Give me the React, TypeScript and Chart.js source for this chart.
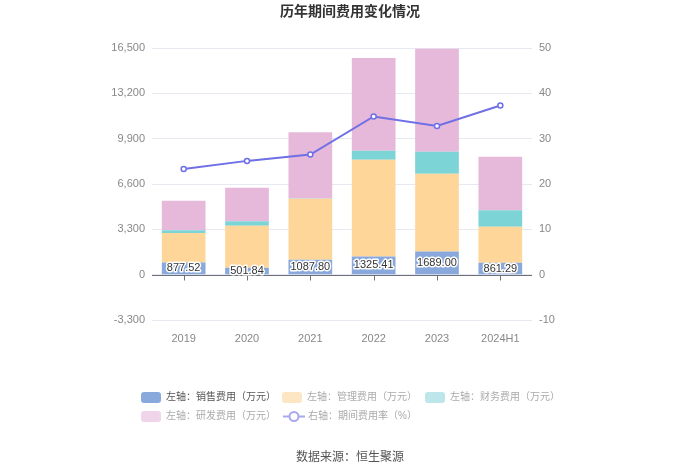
import React, { useEffect, useRef } from "react";
import { Chart, registerables } from "chart.js";

Chart.register(...registerables);

const categories = ["2019", "2020", "2021", "2022", "2023", "2024H1"];
const salesExpense = [877.52, 501.84, 1087.8, 1325.41, 1689.0, 861.29];
const mgmtExpense = [2155, 3064, 4443, 7044, 5662, 2632];
const financeExpense = [194, 316, 15, 655, 1601, 1189];
const rdExpense = [2159, 2450, 4828, 6744, 7496, 3906];
const expenseRatio = [23.3, 25.1, 26.5, 34.9, 32.8, 37.3];

const leftTicks = { min: -3300, max: 16500, step: 3300 };
const rightTicks = { min: -10, max: 50, step: 10 };

const TITLE = "历年期间费用变化情况";
const SOURCE = "数据来源：恒生聚源";
const legendItems = [
  { label: "左轴：销售费用（万元）", color: "#89A9DC", text: "#555", type: "box", row: 0, x: 141 },
  { label: "左轴：管理费用（万元）", color: "#FDE6C4", text: "#aaa", type: "box", row: 0, x: 282 },
  { label: "左轴：财务费用（万元）", color: "#BDE6EA", text: "#aaa", type: "box", row: 0, x: 425 },
  { label: "左轴：研发费用（万元）", color: "#F0D4EA", text: "#aaa", type: "box", row: 1, x: 141 },
  { label: "右轴：期间费用率（%）", color: "#A8A8F0", text: "#aaa", type: "line", row: 1, x: 283 },
];

const FONT = "'Liberation Sans', 'Noto Sans CJK SC', sans-serif";

const decorPlugin = {
  id: "decor",
  beforeDatasetsDraw(chart: any) {
    const ctx = chart.ctx;
    const y = chart.scales.y;
    const x = chart.scales.x;
    const area = chart.chartArea;
    const y0 = Math.round(y.getPixelForValue(0)) + 0.5;
    ctx.save();
    ctx.strokeStyle = "#6E7079";
    ctx.lineWidth = 1;
    ctx.beginPath();
    ctx.moveTo(area.left, y0);
    ctx.lineTo(area.right, y0);
    for (let i = 0; i < categories.length; i++) {
      const px = Math.round(x.getPixelForValue(i)) + 0.5;
      ctx.moveTo(px, y0);
      ctx.lineTo(px, y0 + 5);
    }
    ctx.stroke();
    ctx.restore();
  },
  afterDatasetsDraw(chart: any) {
    const ctx = chart.ctx;
    const meta = chart.getDatasetMeta(1);
    ctx.save();
    ctx.font = `11px ${FONT}`;
    ctx.textAlign = "center";
    ctx.textBaseline = "middle";
    ctx.lineJoin = "round";
    meta.data.forEach((bar: any, i: number) => {
      const cy = (bar.y + bar.base) / 2;
      const txt = salesExpense[i].toFixed(2);
      ctx.strokeStyle = "#fff";
      ctx.lineWidth = 3;
      ctx.strokeText(txt, bar.x, cy);
      ctx.fillStyle = "#333";
      ctx.fillText(txt, bar.x, cy);
    });
    ctx.restore();
  },
  afterDraw(chart: any) {
    const ctx = chart.ctx;
    ctx.save();
    ctx.textBaseline = "middle";
    ctx.textAlign = "center";
    ctx.fillStyle = "#333";
    ctx.font = `bold 14px ${FONT}`;
    ctx.fillText(TITLE, 350, 12);
    ctx.font = `12px ${FONT}`;
    ctx.fillStyle = "#555";
    ctx.fillText(SOURCE, 350, 458);
    ctx.textAlign = "left";
    ctx.font = `10px ${FONT}`;
    legendItems.forEach((it) => {
      const cy = it.row === 0 ? 397.5 : 416.5;
      if (it.type === "box") {
        ctx.fillStyle = it.color;
        const w = 20, h = 11, r = 3;
        const bx = it.x, by = cy - h / 2;
        ctx.beginPath();
        ctx.moveTo(bx + r, by);
        ctx.lineTo(bx + w - r, by);
        ctx.quadraticCurveTo(bx + w, by, bx + w, by + r);
        ctx.lineTo(bx + w, by + h - r);
        ctx.quadraticCurveTo(bx + w, by + h, bx + w - r, by + h);
        ctx.lineTo(bx + r, by + h);
        ctx.quadraticCurveTo(bx, by + h, bx, by + h - r);
        ctx.lineTo(bx, by + r);
        ctx.quadraticCurveTo(bx, by, bx + r, by);
        ctx.fill();
      } else {
        ctx.strokeStyle = it.color;
        ctx.lineWidth = 2;
        ctx.beginPath();
        ctx.moveTo(it.x, cy);
        ctx.lineTo(it.x + 22, cy);
        ctx.stroke();
        ctx.fillStyle = "#fff";
        ctx.beginPath();
        ctx.arc(it.x + 11, cy, 4.5, 0, Math.PI * 2);
        ctx.fill();
        ctx.stroke();
      }
      ctx.fillStyle = it.text;
      ctx.fillText(it.label, it.x + 25, cy);
    });
    ctx.restore();
  },
};

export default function App() {
  const ref = useRef<HTMLCanvasElement>(null);
  useEffect(() => {
    document.body.style.margin = "0";
    const canvas = ref.current!;
    const chart = new Chart(canvas, {
      type: "bar",
      data: {
        labels: categories,
        datasets: [
          { type: "line", label: "右轴：期间费用率（%）", data: expenseRatio, yAxisID: "y1", borderColor: "#6F6FE6", backgroundColor: "#fff", borderWidth: 2, pointRadius: 2.5, pointBorderWidth: 1.5, pointBackgroundColor: "#fff", pointBorderColor: "#6F6FE6", tension: 0, order: 0 } as any,
          { label: "左轴：销售费用（万元）", data: salesExpense, backgroundColor: "#89A9DC", yAxisID: "y", order: 1 },
          { label: "左轴：管理费用（万元）", data: mgmtExpense, backgroundColor: "#FFD699", yAxisID: "y", order: 1 },
          { label: "左轴：财务费用（万元）", data: financeExpense, backgroundColor: "#7DD4D6", yAxisID: "y", order: 1 },
          { label: "左轴：研发费用（万元）", data: rdExpense, backgroundColor: "#E6B8D9", yAxisID: "y", order: 1 },
        ],
      },
      options: {
        responsive: false,
        animation: false,
        devicePixelRatio: 1,
        layout: { padding: { top: 48, left: 0, right: 0, bottom: 0 } },
        datasets: { bar: { barPercentage: 0.69, categoryPercentage: 1 } },
        plugins: { legend: { display: false }, title: { display: false }, tooltip: { enabled: false } },
        scales: {
          x: {
            stacked: true,
            grid: { display: false },
            border: { display: false },
            ticks: { color: "#888", font: { size: 11, family: FONT }, padding: 4 },
            afterFit: (s: any) => { s.height = 154; },
          },
          y: {
            stacked: true,
            position: "left",
            min: leftTicks.min,
            max: leftTicks.max,
            grid: { color: "#E6E9F2", drawTicks: false },
            border: { display: false },
            ticks: {
              stepSize: leftTicks.step,
              color: "#888",
              padding: 7,
              font: { size: 11, family: FONT },
              callback: (v: any) => Number(v).toLocaleString("en-US"),
            },
            afterFit: (s: any) => { s.width = 152; },
          },
          y1: {
            stacked: false,
            position: "right",
            min: rightTicks.min,
            max: rightTicks.max,
            grid: { display: false, drawTicks: false },
            border: { display: false },
            ticks: { stepSize: rightTicks.step, color: "#888", padding: 7, font: { size: 11, family: FONT } },
            afterFit: (s: any) => { s.width = 168; },
          },
        },
      },
      plugins: [decorPlugin],
    });
    return () => chart.destroy();
  }, []);
  return (
    <div style={{ width: 700, height: 474, background: "#fff" }}>
      <canvas ref={ref} width={700} height={474} />
    </div>
  );
}
